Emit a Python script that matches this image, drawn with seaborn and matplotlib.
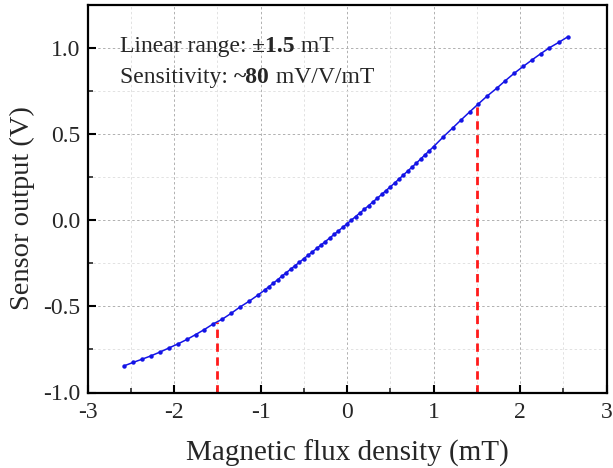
import numpy as np
import pandas as pd
import matplotlib
matplotlib.use("Agg")
import matplotlib.pyplot as plt
import seaborn as sns
from matplotlib.ticker import MultipleLocator
from matplotlib.offsetbox import TextArea, HPacker, VPacker, AnchoredOffsetbox

# ---- data ----
flux_mT = [-2.58, -2.47, -2.37, -2.27, -2.16, -2.06, -1.95, -1.85, -1.75, -1.65,
           -1.55, -1.44, -1.34, -1.24, -1.13, -1.03,
           -0.95, -0.90, -0.85, -0.80, -0.75, -0.70, -0.65, -0.60, -0.55, -0.50,
           -0.45, -0.40, -0.35, -0.30, -0.25, -0.20, -0.15, -0.10, -0.05, 0.00,
           0.05, 0.10, 0.15, 0.20, 0.25, 0.30, 0.35, 0.40, 0.45, 0.50,
           0.55, 0.60, 0.65, 0.70, 0.75, 0.80, 0.85, 0.90, 0.95, 1.00,
           1.115, 1.22, 1.32, 1.42, 1.52, 1.62, 1.73, 1.83, 1.93, 2.04,
           2.14, 2.24, 2.34, 2.45, 2.55]
output_V = [-0.846, -0.825, -0.807, -0.788, -0.765, -0.742, -0.717, -0.692, -0.664, -0.635,
            -0.603, -0.574, -0.541, -0.505, -0.470, -0.435,
            -0.405, -0.385, -0.365, -0.345, -0.324, -0.304, -0.284, -0.264, -0.244, -0.224,
            -0.204, -0.184, -0.164, -0.144, -0.124, -0.104, -0.083, -0.063, -0.042, -0.021,
            0.000, 0.021, 0.042, 0.063, 0.084, 0.106, 0.127, 0.149, 0.171, 0.193,
            0.215, 0.238, 0.261, 0.284, 0.307, 0.330, 0.354, 0.378, 0.402, 0.426,
            0.484, 0.534, 0.582, 0.629, 0.675, 0.720, 0.765, 0.809, 0.851, 0.893,
            0.930, 0.966, 1.000, 1.032, 1.063]

range_x = [-1.5, 1.5]
range_y = [-0.59, 0.67]

x_ticks = [-3, -2, -1, 0, 1, 2, 3]
y_ticks = [-1.0, -0.5, 0.0, 0.5, 1.0]
y_ticklabels = ["-1.0", "-0.5", "0.0", "0.5", "1.0"]

df = pd.DataFrame({"B": flux_mT, "V": output_V})

# ---- style ----
sns.set_theme(style="ticks")
plt.rcParams["font.family"] = ["Liberation Serif", "DejaVu Serif"]
plt.rcParams["xtick.direction"] = "in"
plt.rcParams["ytick.direction"] = "in"

fig = plt.figure(figsize=(6.13, 4.68), dpi=100)
ax = fig.add_axes([87.5 / 613, 1 - 392.5 / 468, (606.5 - 87.5) / 613, (392.5 - 4.7) / 468])

ax.set_xlim(-3, 3)
ax.set_ylim(-1.0, 1.25)
ax.xaxis.set_minor_locator(MultipleLocator(0.5))
ax.yaxis.set_minor_locator(MultipleLocator(0.25))
ax.set_xticks(x_ticks)
ax.set_xticklabels([str(t) for t in x_ticks])
ax.set_yticks(y_ticks)
ax.set_yticklabels(y_ticklabels)

ax.grid(which="major", color="#b0b0b0", linestyle=(0, (2.5, 2.5)), linewidth=0.7)
ax.grid(which="minor", color="#e2e2e2", linestyle=(0, (2.5, 2.5)), linewidth=0.7)
ax.set_axisbelow(True)

# red dashed markers of linear range
ax.vlines(range_x, ymin=-1.0, ymax=range_y, colors="#ff1a1a", linestyles=(0, (3, 2)),
          linewidth=2.0, zorder=2)

sns.lineplot(data=df, x="B", y="V", ax=ax, sort=False, color="#1414e6",
             linewidth=1.1, marker="o", markersize=3.2, markeredgewidth=0, zorder=3)

ax.tick_params(axis="both", which="major", labelsize=17, length=6, width=1.5,
               top=False, right=False, color="black")
ax.tick_params(axis="both", which="minor", length=3.5, width=1.2, top=False, right=False)
ax.tick_params(axis="x", pad=7)
ax.tick_params(axis="y", pad=5)

for s in ax.spines.values():
    s.set_linewidth(1.6)
    s.set_color("black")

ax.set_xlabel("Magnetic flux density (mT)", fontsize=21, labelpad=12)
ax.set_ylabel("Sensor output (V)", fontsize=20.5)
ax.yaxis.set_label_coords(-0.101, 0.476)

# annotation with bold numbers
fs = 17
def piece(t, bold=False):
    return TextArea(t, textprops=dict(fontsize=fs, fontweight="bold" if bold else "normal",
                                      family=["Liberation Serif", "DejaVu Serif"]))

line1 = HPacker(children=[piece("Linear range: "), piece("\u00b11.5", True), piece(" mT")],
                align="baseline", pad=0, sep=0)
line2 = HPacker(children=[piece("Sensitivity: "), piece("~80", True), piece(" mV/V/mT")],
                align="baseline", pad=0, sep=0)
box = VPacker(children=[line1, line2], align="left", pad=0, sep=7)
anch = AnchoredOffsetbox(loc="upper left", child=box, pad=0, frameon=False,
                         bbox_to_anchor=(120 / 613, 1 - 36 / 468),
                         bbox_transform=fig.transFigure, borderpad=0)
ax.add_artist(anch)

if ax.get_legend() is not None:
    ax.get_legend().remove()

fig.savefig("out.png", dpi=100)
